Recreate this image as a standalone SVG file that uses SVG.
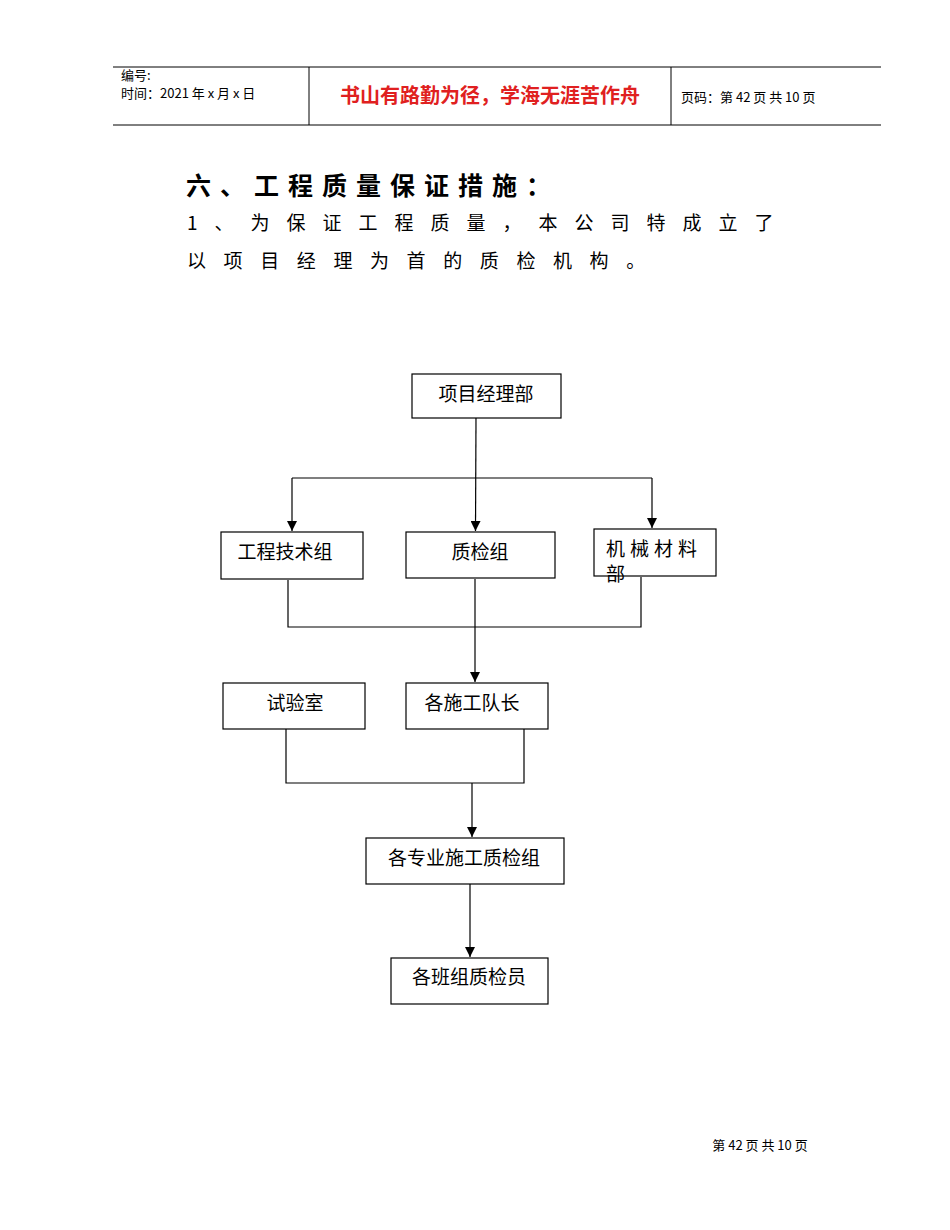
<svg xmlns="http://www.w3.org/2000/svg" width="950" height="1230" viewBox="0 0 950 1230">
<style>
.b{fill:#fff;stroke:#000;stroke-width:1.2}
.t{font-family:"Noto Sans CJK SC","Liberation Serif",serif;font-size:19px;fill:#000}
.c{fill:none;stroke:#000;stroke-width:1.2}
.h{font-family:"Noto Sans CJK SC","Liberation Sans",sans-serif;font-size:13px}
</style>
<defs><marker id="a" markerWidth="10" markerHeight="10" refX="10" refY="5" orient="auto" markerUnits="userSpaceOnUse"><path d="M0,0 L10,5 L0,10 Z" fill="#000"/></marker></defs>
<rect width="950" height="1230" fill="#fff"/>
<g id="header">
<line x1="113" y1="67" x2="881" y2="67" stroke="#000"/>
<line x1="113" y1="125" x2="881" y2="125" stroke="#000"/>
<line x1="309" y1="67" x2="309" y2="125" stroke="#000"/>
<line x1="671" y1="67" x2="671" y2="125" stroke="#000"/>
<text class="h" x="121" y="80">编号:</text>
<text class="h" x="121" y="98">时间：2021 年 x 月 x 日</text>
<text x="490" y="103" text-anchor="middle" font-family="Noto Sans CJK SC,sans-serif" font-size="20" font-weight="bold" fill="#e02020">书山有路勤为径，学海无涯苦作舟</text>
<text class="h" x="681" y="102">页码：第 42 页 共 10 页</text>
</g>
<g id="body" font-family="Noto Sans CJK SC,sans-serif" fill="#000">
<text x="186" y="195" font-size="25" font-weight="bold" letter-spacing="9">六、工程质量保证措施：</text>
<text x="187" y="230" font-size="19" letter-spacing="17">1、为保证工程质量，本公司特成立了</text>
<text x="187" y="268" font-size="19" letter-spacing="17.6">以项目经理为首的质检机构。</text>
</g>
<g id="connectors">
<path class="c" d="M476,418 L475.5,531" marker-end="url(#a)"/>
<path class="c" d="M292,478 L652,478"/>
<path class="c" d="M292,478 L292,531" marker-end="url(#a)"/>
<path class="c" d="M652,478 L652,528" marker-end="url(#a)"/>
<path class="c" d="M288,580 L288,627 L641,627 L641,577"/>
<path class="c" d="M475,579 L475,682" marker-end="url(#a)"/>
<path class="c" d="M286,729 L286,783 L524,783 L524,729"/>
<path class="c" d="M472,783 L472,837" marker-end="url(#a)"/>
<path class="c" d="M470,884 L470,957" marker-end="url(#a)"/>
</g>
<g id="n1"><rect class="b" x="412" y="374" width="149" height="44"/><text class="t" x="486" y="401" text-anchor="middle">项目经理部</text></g>
<g id="n2"><rect class="b" x="221" y="532" width="142" height="47"/><text class="t" x="285" y="559" text-anchor="middle">工程技术组</text></g>
<g id="n3"><rect class="b" x="406" y="532" width="149" height="46"/><text class="t" x="480" y="559" text-anchor="middle">质检组</text></g>
<g id="n4"><rect class="b" x="594" y="529" width="122" height="47"/><text class="t" x="606" y="556" letter-spacing="5">机械材料</text><text class="t" x="606" y="581">部</text></g>
<g id="n5"><rect class="b" x="223" y="683" width="142" height="46"/><text class="t" x="295" y="710" text-anchor="middle">试验室</text></g>
<g id="n6"><rect class="b" x="406" y="683" width="142" height="46"/><text class="t" x="472" y="710" text-anchor="middle">各施工队长</text></g>
<g id="n7"><rect class="b" x="366" y="838" width="198" height="46"/><text class="t" x="464" y="865" text-anchor="middle">各专业施工质检组</text></g>
<g id="n8"><rect class="b" x="391" y="958" width="157" height="46"/><text class="t" x="469" y="984" text-anchor="middle">各班组质检员</text></g>
<text x="760" y="1150" text-anchor="middle" font-family="Noto Sans CJK SC,serif" font-size="13">第 42 页 共 10 页</text>
</svg>
